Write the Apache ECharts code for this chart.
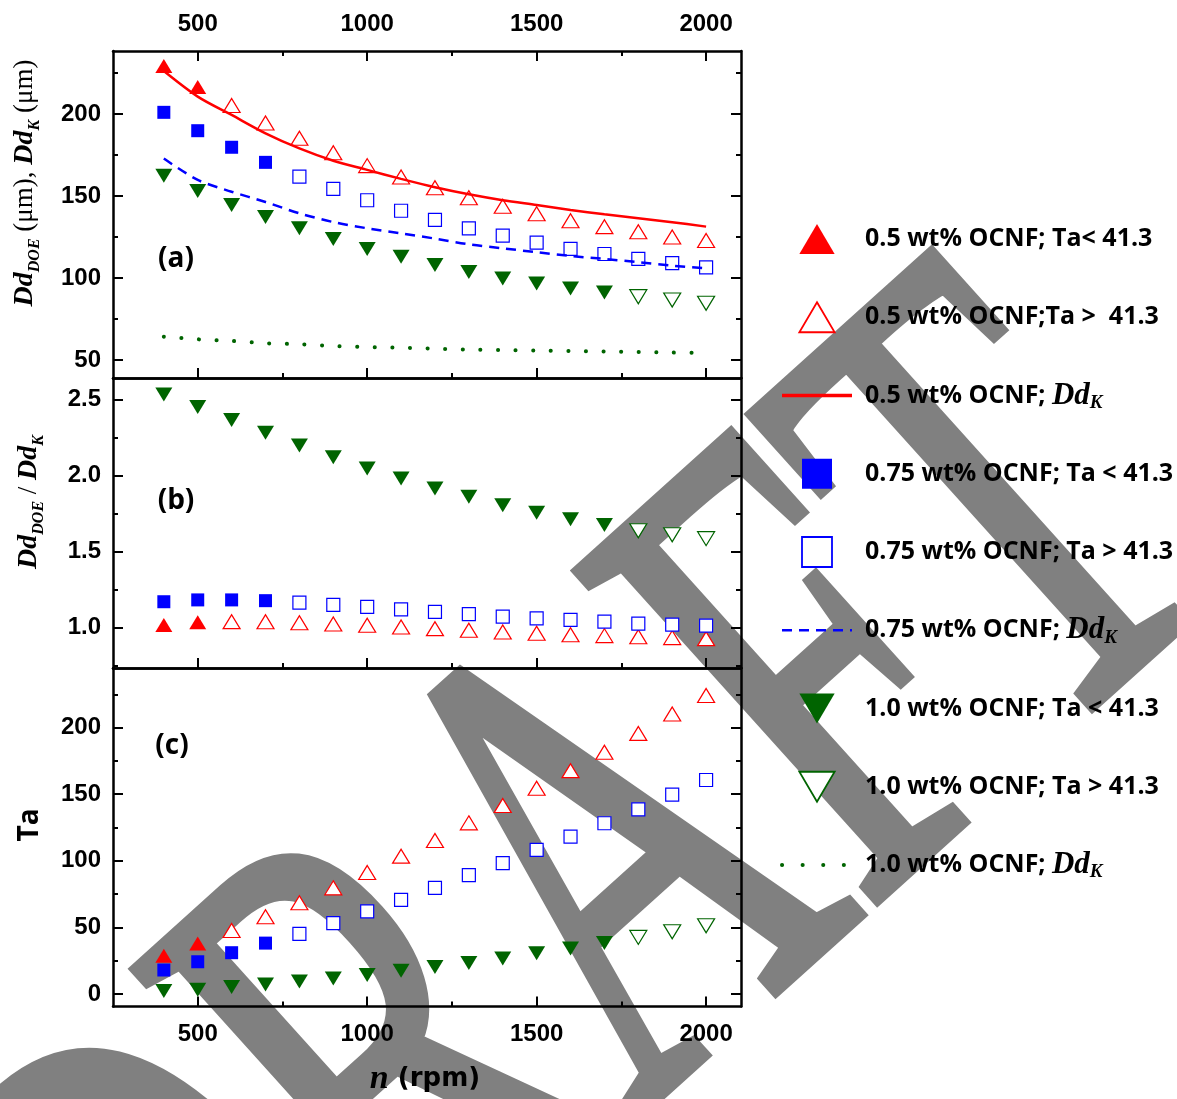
<!DOCTYPE html>
<html><head><meta charset="utf-8">
<script src="https://cdn.jsdelivr.net/npm/echarts@6/dist/echarts.min.js"></script>
<style>html,body{margin:0;padding:0;background:#fff}#c{width:1177px;height:1099px}</style>
</head><body><div id="c"></div><script>
// ---------------- data ----------------
const n = [400,500,600,700,800,900,1000,1100,1200,1300,1400,1500,1600,1700,1800,1900,2000];
// panel (a): Dd_DOE (um)
const ddDOE05  = [229.3,216.5,205.2,194.5,185.2,176.4,168.5,161.6,155.0,148.9,143.7,139.2,134.9,131.3,128.2,125.0,122.8];
const ddDOE075 = [201.0,189.8,179.7,170.5,161.8,154.3,147.4,141.0,135.4,130.3,125.8,121.5,117.7,114.6,111.6,109.0,106.5];
const ddDOE10  = [162.3,153.0,144.5,137.1,130.3,123.7,117.6,113.0,107.9,103.7,99.7,96.6,93.6,91.2,88.6,86.6,84.6];
// panel (a): Dd_K (um)
const ddK05  = [226.2,210.6,199.4,188.2,179.0,171.5,165.9,160.4,155.3,151.0,147.4,144.5,141.5,138.8,136.4,134.0,131.3];
const ddK075 = [172.8,159.8,152.6,146.3,139.4,134.1,130.3,127.2,124.0,120.5,118.1,115.7,113.4,111.6,109.6,107.5,105.9];
const ddK10  = [64.2,62.6,61.6,60.2,59.6,58.5,57.9,57.5,56.9,56.3,56.1,55.7,55.5,55.1,54.9,54.5,54.3];
// panel (b): Dd_DOE / Dd_K
const ratio05  = [1.015,1.033,1.037,1.036,1.030,1.022,1.013,1.002,0.991,0.980,0.969,0.961,0.951,0.945,0.938,0.932,0.925];
const ratio075 = [1.168,1.180,1.180,1.175,1.162,1.147,1.134,1.118,1.101,1.087,1.070,1.059,1.048,1.037,1.024,1.017,1.011];
const ratio10  = [2.532,2.449,2.364,2.280,2.196,2.119,2.045,1.979,1.913,1.858,1.803,1.753,1.710,1.673,1.635,1.609,1.583];
// panel (c): Ta
const ta05  = [28.7,38.0,47.7,58.0,68.5,79.7,91.2,103.5,115.2,128.5,141.5,154.5,167.7,181.5,195.7,210.2,224.2];
const ta075 = [18.0,24.2,31.0,38.2,45.2,53.2,62.0,70.7,79.7,89.2,98.2,108.2,118.2,128.2,138.7,149.7,160.7];
const ta10  = [2.3,3.2,5.3,7.2,9.3,11.7,14.2,17.5,20.2,23.2,26.7,30.5,34.2,38.2,42.5,46.7,51.2];
const taCritical = 41.3;
// ticks
const xTicks = [500,1000,1500,2000];
const xMinor = [750,1250,1750];
const aTicks = [50,100,150,200],     aMinor = [75,125,175,225];
const bTicks = [1.0,1.5,2.0,2.5],    bMinor = [0.75,1.25,1.75,2.25];
const cTicks = [0,50,100,150,200],   cMinor = [25,75,125,175,225];
// legend labels
const names05  = ['0.5 wt% OCNF; Ta< 41.3','0.5 wt% OCNF;Ta >  41.3','0.5 wt% OCNF; DdK'];
const names075 = ['0.75 wt% OCNF; Ta < 41.3','0.75 wt% OCNF; Ta > 41.3','0.75 wt% OCNF; DdK'];
const names10  = ['1.0 wt% OCNF; Ta < 41.3','1.0 wt% OCNF; Ta > 41.3','1.0 wt% OCNF; DdK'];

// ---------------- layout ----------------
const grids = [
  {left:113, top:51,  width:628, height:327},
  {left:113, top:378, width:628, height:290},
  {left:113, top:668, width:628, height:338.5}
];
const yRange = [[39.0,238.4],[0.732,2.640],[-9.4,244.8]];
const yTicks = [[aTicks,aMinor],[bTicks,bMinor],[cTicks,cMinor]];
const LBL = {color:'#000', fontFamily:'Liberation Sans', fontWeight:'bold', fontSize:24};
const xAxes = [], yAxes = [];
function addX(g,pos,ticks,len,label,line){
  xAxes.push({type:'value', gridIndex:g, position:pos, min:250, max:2103,
    axisLine:{show:line, onZero:false, lineStyle:{color:'#000', width:2.5}},
    axisTick:{show:ticks.length>0, inside:true, length:len, customValues:ticks.length?ticks:undefined, lineStyle:{color:'#000', width:2}},
    axisLabel:Object.assign({show:label, margin:pos==='top'?14.5:15.5, customValues:ticks.length?ticks:undefined, formatter:v=>String(v)}, LBL),
    splitLine:{show:false}});
  return xAxes.length-1;
}
function addY(g,pos,ticks,len,label,line,fmt){
  yAxes.push({type:'value', gridIndex:g, position:pos, min:yRange[g][0], max:yRange[g][1],
    axisLine:{show:line, onZero:false, lineStyle:{color:'#000', width:2.5}},
    axisTick:{show:true, inside:true, length:len, customValues:ticks, lineStyle:{color:'#000', width:2}},
    axisLabel:Object.assign({show:label, margin:12, customValues:ticks, formatter:fmt}, LBL),
    splitLine:{show:false}});
  return yAxes.length-1;
}
const mainX = [], mainY = [];
for (let g=0; g<3; g++){
  mainX.push(addX(g,'bottom',xTicks,10,g===2,true));
  addX(g,'bottom',xMinor,5,false,false);
  addX(g,'top',g===0?xTicks:[],10,g===0,true);
  if (g===0) addX(g,'top',xMinor,5,false,false);
  const fmt = g===1 ? (v=>v.toFixed(1)) : (v=>String(v));
  mainY.push(addY(g,'left',yTicks[g][0],10,true,true,fmt));
  addY(g,'left',yTicks[g][1],5,false,false,fmt);
  addY(g,'right',yTicks[g][0],10,false,true,fmt);
  addY(g,'right',yTicks[g][1],5,false,false,fmt);
}

// ---------------- series ----------------
const upTri = 'path://M10,0L20,17L0,17Z';
const downTri = 'path://M0,0L20,0L10,17Z';
const square = 'path://M0,0L10,0L10,10L0,10Z';
const sets = [
  {names:names05,  color:'#ff0000', sym:'triangle', icon:upTri,  size:[17,14], ta:ta05,  panels:[ddDOE05,ratio05,ta05],  k:ddK05,  line:{type:'solid', width:2.5}},
  {names:names075, color:'#0000ff', sym:'rect',     icon:square, size:[13,13], ta:ta075, panels:[ddDOE075,ratio075,ta075], k:ddK075, line:{type:[10,7], width:2.5}},
  {names:names10,  color:'#006400', sym:downTri,    icon:downTri, size:[17,14], ta:ta10,  panels:[ddDOE10,ratio10,ta10],  k:ddK10,  line:{type:[0.1,17.5], width:4, cap:'round'}}
];
const series = [];
sets.forEach(s=>{
  for (let g=0; g<3; g++){
    const vals = s.panels[g];
    const filled = [], open = [];
    n.forEach((x,i)=>{ (s.ta[i] < taCritical ? filled : open).push([x, vals[i]]); });
    series.push({type:'scatter', name:s.names[0], xAxisIndex:mainX[g], yAxisIndex:mainY[g], data:filled,
      symbol:s.sym, symbolSize:s.size, itemStyle:{color:s.color, opacity:1}, z:2, silent:true});
    series.push({type:'scatter', name:s.names[1], xAxisIndex:mainX[g], yAxisIndex:mainY[g], data:open,
      symbol:s.sym, symbolSize:s.size, itemStyle:{color:'#ffffff', borderColor:s.color, borderWidth:1.2, opacity:1}, z:2, silent:true});
  }
  series.push({type:'line', name:s.names[2], xAxisIndex:mainX[0], yAxisIndex:mainY[0],
    data:n.map((x,i)=>[x, s.k[i]]), symbol:'none', smooth:0.3,
    lineStyle:Object.assign({color:s.color}, s.line), z:3, silent:true});
});

// ---------------- legend ----------------
const legendData = [];
sets.forEach((s,idx)=>{
  legendData.push({name:s.names[0], icon:s.icon, itemStyle:{color:s.color, borderWidth:0, opacity:1}});
  legendData.push({name:s.names[1], icon:s.icon, itemStyle:{color:'#ffffff', borderColor:s.color, borderWidth:1.8, opacity:1}});
  legendData.push({name:s.names[2], itemStyle:{opacity:0}, lineStyle:Object.assign({color:s.color}, s.line, idx===2?{type:[0.1,20.5]}:{}, idx===0?{width:3.5}:{})});
});

const serifIt = {fontFamily:'Liberation Serif', fontStyle:'italic', fontWeight:'bold'};
const chart = echarts.init(document.getElementById('c'), null, {renderer:'canvas'});
chart.setOption({
  backgroundColor:'#ffffff',
  animation:false,
  grid:grids,
  xAxis:xAxes,
  yAxis:yAxes,
  series:series,
  legend:{
    data:legendData, orient:'vertical', left:775, top:217, itemWidth:70, itemHeight:30, itemGap:44.25,
    selectedMode:false, symbolKeepAspect:true,
    formatter:nm=>nm.replace('DdK','{i|Dd}{s|K}'),
    textStyle:{fontFamily:'Open Sans', fontWeight:'bold', fontSize:25, color:'#000', lineHeight:34, padding:[0,0,0,8],
      rich:{i:Object.assign({fontSize:31, lineHeight:34, color:'#000'}, serifIt),
            s:Object.assign({fontSize:19, lineHeight:14, verticalAlign:'bottom', color:'#000'}, serifIt)}}
  },
  graphic:{elements:[
    {type:'text', z:-5, x:595, y:914, rotation:42*Math.PI/180, scaleX:0.63, silent:true,
      style:{text:'DRAFT', fontFamily:'Liberation Serif', fontWeight:'normal', fontSize:680, fill:'#808080', stroke:'#808080', lineWidth:11, align:'center', verticalAlign:'middle'}},
    {type:'text', x:176, y:259, z:10, style:{text:'(a)', fontFamily:'Open Sans', fontWeight:'bold', fontSize:28, fill:'#000', align:'center', verticalAlign:'middle'}},
    {type:'text', x:176, y:501, z:10, style:{text:'(b)', fontFamily:'Open Sans', fontWeight:'bold', fontSize:28, fill:'#000', align:'center', verticalAlign:'middle'}},
    {type:'text', x:172, y:746, z:10, style:{text:'(c)', fontFamily:'Open Sans', fontWeight:'bold', fontSize:28, fill:'#000', align:'center', verticalAlign:'middle'}},
    {type:'text', x:25, y:183, rotation:Math.PI/2, z:10,
      style:{text:'{i|Dd}{s|DOE} (μm), {i|Dd}{s|K} (μm)', fontFamily:'Liberation Serif', fontSize:27, fill:'#000', align:'center', verticalAlign:'middle', lineHeight:36,
        rich:{i:Object.assign({fontSize:28, lineHeight:36}, serifIt), s:Object.assign({fontSize:16, lineHeight:14, verticalAlign:'bottom'}, serifIt)}}},
    {type:'text', x:29, y:502, rotation:Math.PI/2, z:10,
      style:{text:'{i|Dd}{s|DOE} / {i|Dd}{s|K}', fontFamily:'Liberation Serif', fontSize:27, fill:'#000', align:'center', verticalAlign:'middle', lineHeight:36,
        rich:{i:Object.assign({fontSize:28, lineHeight:36}, serifIt), s:Object.assign({fontSize:16, lineHeight:14, verticalAlign:'bottom'}, serifIt)}}},
    {type:'text', x:30, y:825, rotation:Math.PI/2, z:10,
      style:{text:'Ta', fontFamily:'Open Sans', fontWeight:'bold', fontSize:28, fill:'#000', align:'center', verticalAlign:'middle'}},
    {type:'text', x:425, y:1079, z:10,
      style:{text:'{n|n} (rpm)', fontFamily:'DejaVu Sans', fontWeight:'bold', fontSize:26, fill:'#000', align:'center', verticalAlign:'middle', lineHeight:34,
        rich:{n:Object.assign({fontSize:34, lineHeight:34}, serifIt)}}}
  ]}
});
</script></body></html>
